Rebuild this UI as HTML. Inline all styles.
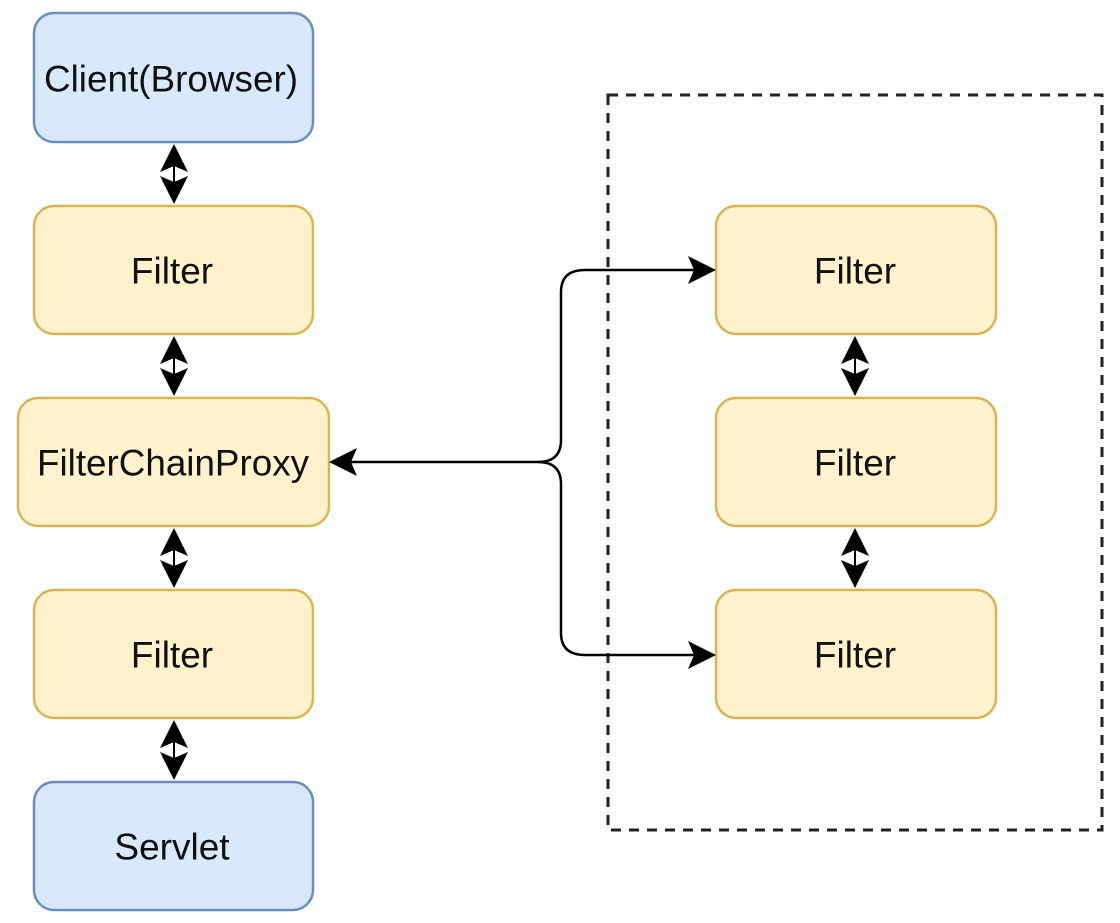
<!DOCTYPE html>
<html><head><style>
body{margin:0;background:#fff;}
svg{display:block;}
text{font-family:"Liberation Sans",Arial,sans-serif;font-size:37px;fill:#111;text-anchor:middle;dominant-baseline:central;}
</style></head><body>
<svg width="1120" height="923" viewBox="0 0 1120 923">
<rect x="608" y="95" width="494" height="735" fill="none" stroke="#222" stroke-width="3" stroke-dasharray="10,8"/>
<g stroke-width="2.5">
<rect x="34" y="13" width="279" height="129" rx="20" fill="#dae8fc" stroke="#6c8ebf"/>
<rect x="34" y="206" width="279" height="128" rx="20" fill="#fff2cc" stroke="#d6b656"/>
<rect x="18" y="398" width="311" height="128" rx="20" fill="#fff2cc" stroke="#d6b656"/>
<rect x="34" y="590" width="279" height="128" rx="20" fill="#fff2cc" stroke="#d6b656"/>
<rect x="34" y="782" width="279" height="128" rx="20" fill="#dae8fc" stroke="#6c8ebf"/>
<rect x="716" y="206" width="280" height="128" rx="20" fill="#fff2cc" stroke="#d6b656"/>
<rect x="716" y="398" width="280" height="128" rx="20" fill="#fff2cc" stroke="#d6b656"/>
<rect x="716" y="590" width="280" height="128" rx="20" fill="#fff2cc" stroke="#d6b656"/>
</g>
<text x="171" y="79" textLength="254" lengthAdjust="spacingAndGlyphs">Client(Browser)</text>
<text x="172" y="271">Filter</text>
<text x="173" y="463" textLength="272" lengthAdjust="spacingAndGlyphs">FilterChainProxy</text>
<text x="172" y="655">Filter</text>
<text x="172" y="847">Servlet</text>
<text x="855" y="271">Filter</text>
<text x="855" y="463">Filter</text>
<text x="855" y="655">Filter</text>
<g fill="#000">
<path d="M174,144 L188,172 L174,166 L160,172 Z"/><path d="M174,204 L188,176 L174,182 L160,176 Z"/><rect x="173" y="160" width="2" height="28"/>
<path d="M174,336 L188,364 L174,358 L160,364 Z"/><path d="M174,396 L188,368 L174,374 L160,368 Z"/><rect x="173" y="352" width="2" height="28"/>
<path d="M174,528 L188,556 L174,550 L160,556 Z"/><path d="M174,588 L188,560 L174,566 L160,560 Z"/><rect x="173" y="544" width="2" height="28"/>
<path d="M174,720 L188,748 L174,742 L160,748 Z"/><path d="M174,780 L188,752 L174,758 L160,752 Z"/><rect x="173" y="736" width="2" height="28"/>
<path d="M855,336 L869,364 L855,358 L841,364 Z"/><path d="M855,396 L869,368 L855,374 L841,368 Z"/><rect x="854" y="352" width="2" height="28"/>
<path d="M855,528 L869,556 L855,550 L841,556 Z"/><path d="M855,588 L869,560 L855,566 L841,560 Z"/><rect x="854" y="544" width="2" height="28"/>
</g>
<g fill="none" stroke="#000" stroke-width="2.5">
<path d="M345,462 L538,462 Q561,462 561,440 L561,292 Q561,270 585,270 L700,270"/>
<path d="M538,462 Q561,462 561,484 L561,633 Q561,655 585,655 L700,655"/>
</g>
<g fill="#000">
<path d="M329,462 L357,448 L351,462 L357,476 Z"/>
<path d="M716,270 L688,256 L694,270 L688,284 Z"/>
<path d="M716,655 L688,641 L694,655 L688,669 Z"/>
</g>
</svg>
</body></html>
